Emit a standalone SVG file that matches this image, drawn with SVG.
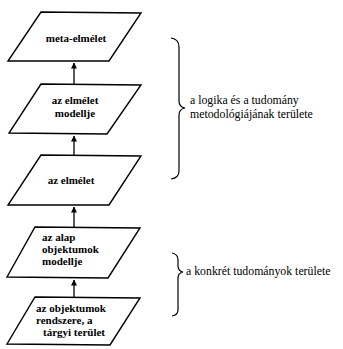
<svg xmlns="http://www.w3.org/2000/svg" width="343" height="349" viewBox="0 0 343 349">
<style>
.box{fill:#fff;stroke:#000;stroke-width:1.4;stroke-linejoin:miter}
.t{font-family:"Liberation Serif","Times New Roman",serif;font-size:11px;font-weight:bold;fill:#000}
.lbl{font-family:"Liberation Serif","Times New Roman",serif;font-size:11.8px;fill:#000}
.conn{stroke:#000;stroke-width:1.3;fill:none}
.brace{stroke:#000;stroke-width:1.2;fill:none}
</style>
<defs>
<marker id="ah" markerWidth="6" markerHeight="7" refX="5.5" refY="3" orient="auto" markerUnits="userSpaceOnUse">
<path d="M0,0 L6,3 L0,6 Z" fill="#000"/>
</marker>
</defs>
<rect width="343" height="349" fill="#fff"/>
<g id="connectors">
<line class="conn" x1="74" y1="84" x2="74" y2="63" marker-end="url(#ah)"/>
<line class="conn" x1="74" y1="155" x2="74" y2="136" marker-end="url(#ah)"/>
<line class="conn" x1="74" y1="227" x2="74" y2="207" marker-end="url(#ah)"/>
<line class="conn" x1="74" y1="297" x2="74" y2="280" marker-end="url(#ah)"/>
</g>
<g id="meta-elmelet">
<polygon class="box" points="41,12 141,13 109,61 8,61"/>
<text class="t" x="76" y="42" text-anchor="middle">meta-elmélet</text>
</g>
<g id="elmelet-modellje">
<polygon class="box" points="41,84 141,85 107,134 9,133"/>
<text class="t" x="75" y="104" text-anchor="middle">az elmélet</text>
<text class="t" x="75" y="117" text-anchor="middle">modellje</text>
</g>
<g id="elmelet">
<polygon class="box" points="41,155 141,156 109,205 8,205"/>
<text class="t" x="71" y="184" text-anchor="middle">az elmélet</text>
</g>
<g id="alap-objektumok-modellje">
<polygon class="box" points="35,227 140,228 108,278 7,277"/>
<text class="t" x="42" y="241">az alap</text>
<text class="t" x="42" y="253">objektumok</text>
<text class="t" x="42" y="265">modellje</text>
</g>
<g id="objektumok-rendszere">
<polygon class="box" points="35,297 140,298 110,345 7,344"/>
<text class="t" x="36" y="312">az objektumok</text>
<text class="t" x="36" y="324">rendszere, a</text>
<text class="t" x="43" y="336">tárgyi terület</text>
</g>
<g id="brace-logika">
<path class="brace" d="M171,38 Q179,39 179,47 L179,101 Q179,107 185,108 Q179,109 179,115 L179,171 Q179,178 171,179"/>
<text class="lbl" x="190" y="103.5">a logika és a tudomány</text>
<text class="lbl" x="190" y="117.5">metodológiájának területe</text>
</g>
<g id="brace-konkret">
<path class="brace" d="M172,253 Q178,254 178,260 L178,266 Q178,271 183,272 Q178,273 178,278 L178,310 Q178,315 172,316"/>
<text class="lbl" x="186" y="275">a konkrét tudományok területe</text>
</g>
</svg>
